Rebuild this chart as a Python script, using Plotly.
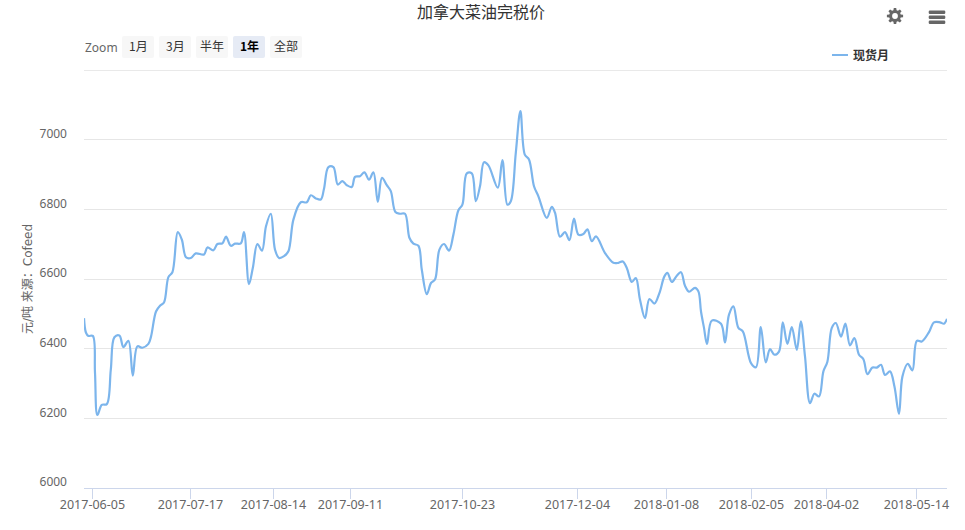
import math
import plotly.graph_objects as go

W, H = 965, 530
L, R, T, B = 84, 947, 70, 488

TITLE = "加拿大菜油完税价"
SERIES_NAME = "现货月"
Y_TITLE = "元/吨 来源：Cofeed"
COLOR = "#7cb5ec"

# Ordinal position along the (gap-free) time axis and price
ordinal = [0,1,2.2,4.4,5.5,6.7,8.9,11.4,13.4,15.2,17.7,19.7,22.2,24.4,26.7,29.2,32.2,33.5,36,38,40,42.2,44.2,46.9,48.9,51,53.4,55.9,60,61.7,64.7,66.7,69.2,71,73.4,75.5,78.4,80,82.5,84.4,86.7,89,91,93.4,95.5,97.5,100,102.2,104.7,108.4,111.4,113.4,116,118.4,120,122.2,124.7,126.9,129.2,131.4,133.9,135.5,138,140.2,142.5,144.7,146.9,149,151.4,153.4,155.7,158,160.5,162.7,164.7,167.2,168.9,171.4,173.5,175.5,177.7,180,182.5,184.7,187.2,189.2,191.4,193.9,195.9,198,200,202.2,206.9,209.2,211.7,213.4,215.9,218.2,220.4,222.5,225,227.2,231.4,233.9,235.5,238,240.5,242.7,245,247.2,249.7,251.7,253.9,256,260.5,264.7,267.2,269.4,271.4,273.9,275.9,278,280.5,282.7,285.2,287.7,290.2,291.7,293.9,296.4,298.5,300.5,302.5,305.5,307.2,308.5,310,311.5,313.9,318.5,320.5,322.5,324.7,327.2,329.4,333.5,336,338.4,340.9,343,345.2,347.5,349.4,351.7,353.9,356.4,358.4,360.5,363,365.2,367.5,369.7,371.7,373.9,375.9,378.5,380.7,383,385.2,387.5,389.7,391.7,394.2,396.4,398.5,400.5,403,405.2,407.5,409.2,411.9,414.2,416.4,418.9,422.5,425,428,430,431.5]
price = [6488,6446,6437,6437,6331,6210,6239,6241,6340,6433,6438,6405,6423,6323,6407,6403,6414,6435,6507,6524,6533,6606,6620,6735,6714,6663,6661,6674,6671,6691,6683,6701,6703,6722,6696,6702,6703,6735,6586,6632,6701,6682,6752,6788,6685,6661,6666,6680,6771,6821,6821,6841,6832,6829,6860,6922,6922,6872,6882,6870,6865,6894,6896,6907,6886,6907,6822,6891,6870,6853,6793,6788,6788,6719,6702,6696,6627,6557,6589,6599,6685,6701,6682,6728,6798,6814,6904,6904,6824,6867,6936,6927,6863,6942,6814,6824,6963,7083,6958,6944,6867,6838,6776,6808,6791,6722,6735,6712,6774,6728,6730,6743,6709,6723,6675,6647,6647,6651,6632,6592,6603,6541,6488,6543,6530,6560,6608,6618,6592,6610,6620,6581,6564,6575,6565,6507,6460,6414,6481,6472,6418,6498,6522,6460,6450,6359,6347,6462,6361,6399,6383,6392,6476,6414,6462,6397,6479,6378,6244,6271,6263,6335,6363,6460,6474,6435,6472,6410,6431,6383,6370,6327,6346,6346,6354,6325,6335,6292,6213,6320,6357,6338,6423,6421,6448,6476,6476,6472,6486]

tick_pos = [4.2,53.2,94.7,133.2,189.2,246.7,291.2,333.7,371.2,416.2]
tick_labels = ["2017-06-05","2017-07-17","2017-08-14","2017-09-11","2017-10-23","2017-12-04","2018-01-08","2018-02-05","2018-04-02","2018-05-14"]
y_ticks = [6000,6200,6400,6600,6800,7000]
y_labels = ["6000","6200","6400","6600","6800","7000"]
y_top_line = 7200
zoom_buttons = ["1月","3月","半年","1年","全部"]
active_button = "1年"

CJK = "'Noto Sans CJK SC','Noto Sans',sans-serif"
LATIN = "'Noto Sans','Noto Sans CJK SC',sans-serif"
TITLE_FONT = "'DejaVu Sans','Noto Sans CJK SC',sans-serif"

px = lambda x: (x - L) / (R - L)
py = lambda y: (B - y) / (B - T)

def rrect(x0, y0, x1, y1, r, fill):
    p = (f"M {px(x0+r)} {py(y0)} L {px(x1-r)} {py(y0)} Q {px(x1)} {py(y0)} {px(x1)} {py(y0+r)} "
         f"L {px(x1)} {py(y1-r)} Q {px(x1)} {py(y1)} {px(x1-r)} {py(y1)} "
         f"L {px(x0+r)} {py(y1)} Q {px(x0)} {py(y1)} {px(x0)} {py(y1-r)} "
         f"L {px(x0)} {py(y0+r)} Q {px(x0)} {py(y0)} {px(x0+r)} {py(y0)} Z")
    return dict(type="path", xref="paper", yref="paper", path=p, fillcolor=fill, line_width=0, layer="above")

def label(x, y, text, size=12, color="#333333", anchor="center", family=CJK):
    return dict(xref="paper", yref="paper", x=px(x), y=py(y), text=text, showarrow=False,
                xanchor=anchor, yanchor="middle", font=dict(size=size, color=color, family=family))

shapes, notes = [], []

# Top gridline of the value axis (carries no label)
shapes.append(dict(type="line", xref="paper", yref="y", x0=0, x1=1, y0=y_top_line, y1=y_top_line,
                   line=dict(color="#e6e6e6", width=1), layer="below"))

# Zoom buttons
notes.append(label(82.5, 47, "Zoom", 12, "#666666", "left", LATIN))
for i, b in enumerate(zoom_buttons):
    x0 = 122 + i * 37
    on = b == active_button
    shapes.append(rrect(x0, 36, x0 + 32, 58, 2, "#e6ebf5" if on else "#f7f7f7"))
    notes.append(label(x0 + 16, 45.5, f"<b>{b}</b>" if on else b, 12, "#000000" if on else "#333333"))

# Legend
shapes.append(dict(type="line", xref="paper", yref="paper", x0=px(832), x1=px(848), y0=py(55), y1=py(55),
                   line=dict(color=COLOR, width=2), layer="above"))
notes.append(label(851, 54, f"<b>{SERIES_NAME}</b>", 12, "#333333", "left"))

# Menu icon
for yc in (12.3, 17.3, 22.3):
    shapes.append(rrect(928.7, yc - 1.7, 945.3, yc + 1.7, 1.2, "#666666"))

# Settings icon
cx, cy, teeth = 895, 16, 8
pts = []
for k in range(teeth):
    a = 2 * math.pi * k / teeth
    for da, rad in ((-0.27, 5.9), (-0.15, 8.2), (0.15, 8.2), (0.27, 5.9)):
        pts.append((cx + rad * math.cos(a + da), cy + rad * math.sin(a + da)))
gear = "M " + " L ".join(f"{px(a)} {py(b)}" for a, b in pts) + " Z"
shapes.append(dict(type="path", xref="paper", yref="paper", path=gear, fillcolor="#666666", line_width=0, layer="above"))
shapes.append(dict(type="circle", xref="paper", yref="paper", x0=px(cx - 2.9), x1=px(cx + 2.9), y0=py(cy + 2.9), y1=py(cy - 2.9),
                   fillcolor="#ffffff", line_width=0, layer="above"))

fig = go.Figure(go.Scatter(x=ordinal, y=price, mode="lines", name=SERIES_NAME,
                           line=dict(color=COLOR, width=2.2, shape="spline", smoothing=1),
                           hoverinfo="y"))

fig.update_layout(
    width=W, height=H, autosize=False,
    margin=dict(l=L, r=W - R, t=T, b=H - B, pad=0),
    paper_bgcolor="#ffffff", plot_bgcolor="#ffffff", showlegend=False,
    title=dict(text=TITLE, x=481 / W, xanchor="center", y=1 - 12.5 / H, yanchor="middle",
               font=dict(size=16, color="#333333", family=CJK)),
    shapes=shapes, annotations=notes,
    xaxis=dict(range=[0, 431.5], tickmode="array", tickvals=tick_pos, ticktext=tick_labels,
               showgrid=False, zeroline=False, showline=True, linecolor="#ccd6eb", linewidth=1,
               ticks="outside", ticklen=10, tickcolor="#ccd6eb", tickwidth=1, tickangle=0,
               ticklabelstandoff=-5,
               tickfont=dict(size=12.5, color="#666666", family=LATIN)),
    yaxis=dict(range=[6000, 7201], tickmode="array", tickvals=y_ticks, ticktext=y_labels,
               showgrid=True, gridcolor="#e6e6e6", gridwidth=1, zeroline=False, showline=False,
               ticks="", ticklabelstandoff=16, ticklabelshift=-6,
               tickfont=dict(size=12, color="#666666", family=LATIN),
               title=dict(text=Y_TITLE, standoff=4, font=dict(size=12, color="#666666", family=TITLE_FONT))),
)

fig.write_html("out.html", post_script="document.body.style.margin='0';document.body.style.overflow='hidden';",
               config={"displayModeBar": False})
